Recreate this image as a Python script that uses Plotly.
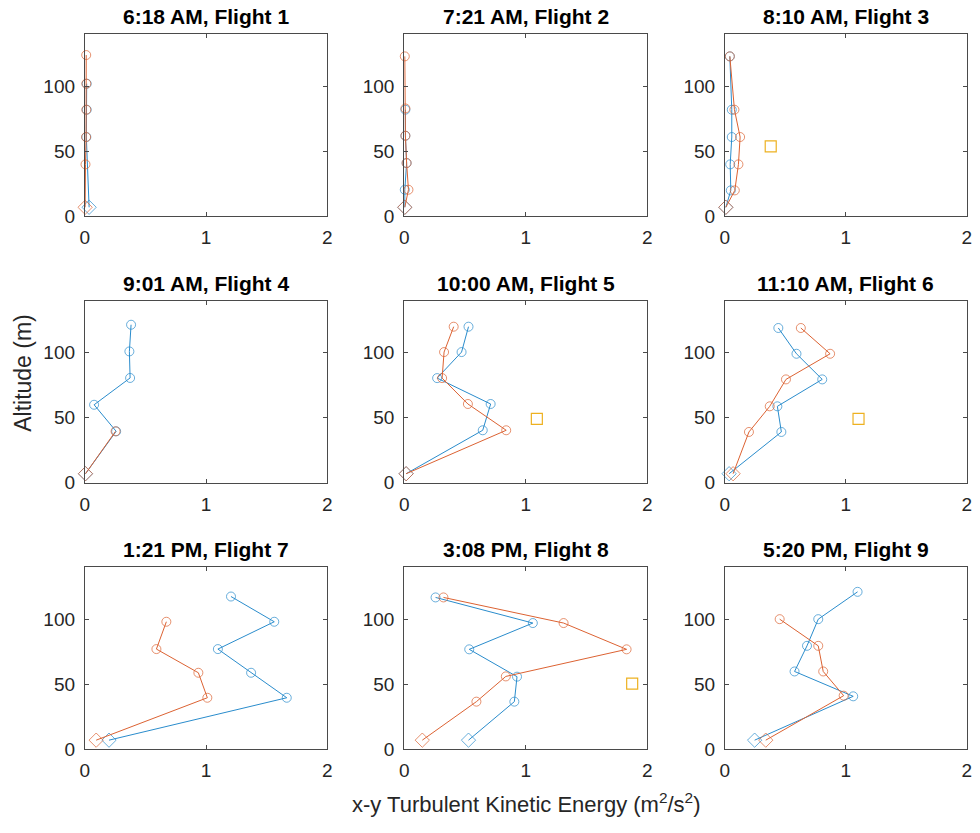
import plotly.graph_objects as go

# ---------------- data ----------------
titles = ["6:18 AM, Flight 1", "7:21 AM, Flight 2", "8:10 AM, Flight 3",
          "9:01 AM, Flight 4", "10:00 AM, Flight 5", "11:10 AM, Flight 6",
          "1:21 PM, Flight 7", "3:08 PM, Flight 8", "5:20 PM, Flight 9"]

# blue series (last point = diamond)
blue_x = [
    [0.015, 0.015, 0.012, 0.035],
    [0.01, 0.01, 0.02, 0.005, 0.005],
    [0.041, 0.057, 0.057, 0.044, 0.049, 0.008],
    [0.381, 0.367, 0.373, 0.076, 0.258, 0.005],
    [0.529, 0.472, 0.271, 0.711, 0.646, 0.016],
    [0.442, 0.592, 0.805, 0.434, 0.467, 0.035],
    [1.205, 1.562, 1.097, 1.371, 1.665, 0.199],
    [0.258, 1.058, 0.535, 0.928, 0.906, 0.529],
    [1.097, 0.772, 0.679, 0.576, 1.061, 0.246],
]
blue_y = [
    [102, 82, 61, 7],
    [82, 62, 41, 20.5, 7],
    [123, 82, 61, 40, 20, 7],
    [121.5, 101, 80.6, 60, 39.6, 7],
    [120, 100.5, 80.5, 60.6, 40.4, 7],
    [119, 99.2, 79.5, 58.8, 39.1, 7],
    [117.4, 98, 77, 58.8, 39.6, 7],
    [116.7, 97, 76.8, 55.8, 36.6, 7],
    [121, 100, 79.5, 59.8, 40.7, 7],
]
# orange series (last point = diamond)
orange_x = [
    [0.011, 0.012, 0.012, 0.01, 0.005, 0.002],
    [0.005, 0.01, 0.01, 0.02, 0.035, 0.005],
    [0.041, 0.079, 0.126, 0.112, 0.082, 0.008],
    [0.253, 0.005],
    [0.407, 0.328, 0.312, 0.524, 0.839, 0.016],
    [0.628, 0.870, 0.505, 0.371, 0.199, 0.068],
    [0.672, 0.590, 0.936, 1.01, 0.093],
    [0.323, 1.311, 1.829, 0.836, 0.594, 0.149],
    [0.453, 0.772, 0.813, 0.982, 0.338],
]
orange_y = [
    [124, 102, 82, 61, 40, 7],
    [123, 83, 62, 41, 20.5, 7],
    [123, 82, 61, 40, 20, 7],
    [39.6, 7],
    [120, 100.5, 80.5, 60.6, 40.4, 7],
    [119, 99.2, 79.5, 58.8, 39.1, 7],
    [98, 77, 58.8, 39.6, 7],
    [116.7, 97, 76.8, 56, 36.6, 7],
    [100, 79.5, 59.8, 41.2, 7],
]
# yellow square points (None = absent)
square_x = [None, None, 0.379, None, 1.091, 1.105, None, 1.875, None]
square_y = [None, None, 53.8, None, 49.2, 49.2, None, 50.5, None]

x_ticks = [0, 1, 2]
y_ticks = [0, 50, 100]

# ---------------- style ----------------
BLUE = "#2a8ccc"
ORANGE = "#dc6232"
YELLOW = "#EDB120"
AX = "#4a4a4a"
TXT = "#262626"
FONT = "Liberation Sans, Arial, sans-serif"
W, H = 980, 833

col_px = [(80.7, 325.7), (403.3, 649.0), (727.3, 971.7)]
row_px = [(34.7, 219.3), (304.7, 489.3), (574.7, 759.3)]

fig = go.Figure()
layout = dict(width=W, height=H, margin=dict(l=0, r=0, t=0, b=0),
              plot_bgcolor="white", paper_bgcolor="white", showlegend=False,
              font=dict(family=FONT, color=TXT))
annotations = []


def marker_lists(n):
    syms = ["circle-open"] * (n - 1) + ["diamond-open"]
    sizes = [9] * (n - 1) + [11]
    return syms, sizes


for i in range(9):
    r, c = divmod(i, 3)
    k = "" if i == 0 else str(i + 1)
    xa, ya = "x" + k, "y" + k
    x0, x1 = col_px[c]
    yt, yb = row_px[r]
    layout["xaxis" + k] = dict(
        domain=[x0 / W, x1 / W], anchor=ya, range=[0, 2], tickvals=x_ticks,
        ticks="inside", ticklen=4, tickcolor=AX, showline=True, linecolor=AX,
        linewidth=1, mirror="ticks", showgrid=False, zeroline=False,
        tickfont=dict(size=19, color=TXT, family=FONT), ticklabelstandoff=4)
    layout["yaxis" + k] = dict(
        domain=[1 - yb / H, 1 - yt / H], anchor=xa, range=[0, 140], tickvals=y_ticks,
        ticks="inside", ticklen=4, tickcolor=AX, showline=True, linecolor=AX,
        linewidth=1, mirror="ticks", showgrid=False, zeroline=False,
        tickfont=dict(size=19, color=TXT, family=FONT), ticklabelstandoff=5)

    for xs, ys, col in ((blue_x[i], blue_y[i], BLUE), (orange_x[i], orange_y[i], ORANGE)):
        syms, sizes = marker_lists(len(xs))
        fig.add_trace(go.Scatter(
            x=xs, y=ys, xaxis=xa, yaxis=ya, mode="lines+markers",
            line=dict(color=col, width=1),
            marker=dict(symbol=syms, size=sizes, color=col, line=dict(color=col, width=1)),
            cliponaxis=False))
    if square_x[i] is not None:
        fig.add_trace(go.Scatter(
            x=[square_x[i]], y=[square_y[i]], xaxis=xa, yaxis=ya, mode="markers",
            marker=dict(symbol="square-open", size=11, color=YELLOW,
                        line=dict(color=YELLOW, width=1.2))))

    annotations.append(dict(
        text="<b>" + titles[i] + "</b>", xref="paper", yref="paper",
        x=(x0 + x1) / 2 / W, y=1 - (yt - 17.5) / H, xanchor="center", yanchor="middle",
        showarrow=False, font=dict(size=21, color="#000000", family=FONT)))

annotations.append(dict(
    text="x-y Turbulent Kinetic Energy (m<sup>2</sup>/s<sup>2</sup>)", xref="paper", yref="paper",
    x=526 / W, y=1 - 814 / H, xanchor="center", yanchor="middle", showarrow=False,
    font=dict(size=22, color=TXT, family=FONT)))
annotations.append(dict(
    text="Altitude (m)", xref="paper", yref="paper", textangle=-90,
    x=18 / W, y=1 - 378 / H, xanchor="center", yanchor="middle", showarrow=False,
    font=dict(size=23, color=TXT, family=FONT)))

layout["annotations"] = annotations
fig.update_layout(**layout)
fig.write_html("out.html")
